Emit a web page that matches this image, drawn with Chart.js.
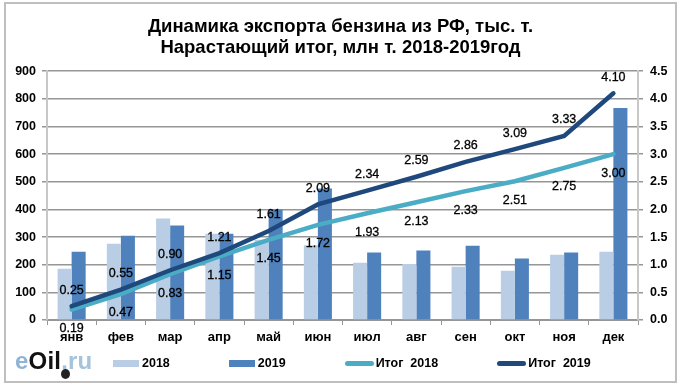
<!DOCTYPE html>
<html lang="ru">
<head>
<meta charset="utf-8">
<title>Динамика экспорта бензина</title>
<script src="https://cdn.jsdelivr.net/npm/chart.js@4"></script>
<style>
    html, body { margin: 0; padding: 0; background: #fff; }
    #wrap { position: relative; width: 682px; height: 389px; overflow: hidden; }
    #frame { position: absolute; left: 4px; top: 2px; width: 669px; height: 377px; border: 2px solid #bfbfbf; }
    #logo { position: absolute; left: 15px; top: 347px; font: bold 24px "Liberation Sans", sans-serif; letter-spacing: 0.2px; color: #a5c4dc; }
    #logo b { color: #111; }
    #logo i { font-style: normal; color: #8fb4d6; }
    #drop { position: absolute; left: 61px; top: 369px; width: 9px; height: 10px; background: #222; border-radius: 50%; }
    #legend { position: absolute; left: 113px; top: 355px; display: flex; gap: 59px; font: bold 12.5px "Liberation Sans", sans-serif; color: #000; line-height: 16px; }
    .item { display: flex; align-items: center; white-space: pre; }
    .swatch { display: block; width: 26px; height: 7px; margin-right: 3px; }
    .swatch.line { width: 29px; height: 5px; border-radius: 3px; margin-right: 2px; }
</style>
</head>
<body>
<div id="wrap">
    <div id="frame"></div>
    <canvas id="exportChart" width="682" height="389"></canvas>
    <div id="legend"></div>
    <div id="logo"><i>e</i><b>Oil</b>.ru</div>
    <div id="drop"></div>
</div>
<script>
// Данные с графика
const months = ['янв', 'фев', 'мар', 'апр', 'май', 'июн', 'июл', 'авг', 'сен', 'окт', 'ноя', 'дек'];
const export2018 = [185, 276, 367, 312, 290, 270, 207, 203, 193, 178, 236, 247];
const export2019 = [247, 305, 342, 312, 400, 476, 244, 251, 269, 222, 244, 767];
const total2018 = [0.19, 0.47, 0.83, 1.15, 1.45, 1.72, 1.93, 2.13, 2.33, 2.51, 2.75, 3.00];
const total2019 = [0.25, 0.55, 0.90, 1.21, 1.61, 2.09, 2.34, 2.59, 2.86, 3.09, 3.33, 4.10];

const font = 'Liberation Sans';

// Подписи значений над и под линиями
const lineLabels = {
    id: 'lineLabels',
    afterDatasetsDraw(chart) {
        const ctx = chart.ctx;
        ctx.save();
        ctx.font = '12.5px "' + font + '"';
        ctx.fillStyle = '#000';
        ctx.strokeStyle = '#000';
        ctx.lineWidth = 0.3;
        ctx.textAlign = 'center';
        ctx.textBaseline = 'middle';
        const put = (text, x, y) => {
            ctx.fillText(text, x, y);
            ctx.strokeText(text, x, y);
        };
        chart.getDatasetMeta(2).data.forEach((p, i) => put(total2018[i].toFixed(2), p.x, p.y + 19));
        chart.getDatasetMeta(3).data.forEach((p, i) => put(total2019[i].toFixed(2), p.x, p.y - 16));
        ctx.restore();
    }
};

const chart = new Chart(document.getElementById('exportChart').getContext('2d'), {
    type: 'bar',
    data: {
        labels: months,
        datasets: [
            { label: '2018', data: export2018, backgroundColor: '#b9cde5', yAxisID: 'y', order: 2,
              categoryPercentage: 0.57, barPercentage: 1 },
            { label: '2019', data: export2019, backgroundColor: '#4f81bd', yAxisID: 'y', order: 2,
              categoryPercentage: 0.57, barPercentage: 1 },
            { type: 'line', label: 'Итог  2018', data: total2018, borderColor: '#4bacc6', backgroundColor: '#4bacc6',
              borderWidth: 4.5, pointRadius: 0, borderCapStyle: 'round', yAxisID: 'y1', order: 1 },
            { type: 'line', label: 'Итог  2019', data: total2019, borderColor: '#1f497d', backgroundColor: '#1f497d',
              borderWidth: 4.5, pointRadius: 0, borderCapStyle: 'round', yAxisID: 'y1', order: 0 }
        ]
    },
    options: {
        responsive: false,
        animation: false,
        layout: { padding: { left: 5, right: 6, top: 16, bottom: 39 } },
        plugins: {
            title: {
                display: true,
                text: ['Динамика экспорта бензина из РФ, тыс. т.', 'Нарастающий итог, млн т. 2018-2019год'],
                color: '#000',
                font: { family: font, size: 18.5, weight: 'bold', lineHeight: 1.14 },
                padding: { top: 0, bottom: 13 }
            },
            legend: { display: false },
            tooltip: { enabled: false }
        },
        scales: {
            x: {
                grid: { drawOnChartArea: false, color: '#969696', lineWidth: 1, tickLength: 5 },
                border: { color: '#969696', width: 2 },
                ticks: { color: '#000', font: { family: font, size: 13, weight: 'bold' }, padding: 5, maxRotation: 0 },
                afterFit(scale) { scale.height = 30; }
            },
            y: {
                position: 'left',
                min: 0,
                max: 900,
                grid: { color: '#969696', lineWidth: 1.5, tickLength: 5 },
                border: { color: '#c8c8c8', width: 2 },
                ticks: { stepSize: 100, color: '#000', font: { family: font, size: 12.5, weight: 'bold' }, padding: 6 },
                afterFit(scale) { scale.width = 42; }
            },
            y1: {
                position: 'right',
                min: 0,
                max: 4.5,
                grid: { drawOnChartArea: false, color: '#969696', lineWidth: 1.5, tickLength: 5 },
                border: { color: '#c8c8c8', width: 2 },
                ticks: { stepSize: 0.5, color: '#000', font: { family: font, size: 12.5, weight: 'bold' }, padding: 7,
                    callback: v => v.toFixed(1) },
                afterFit(scale) { scale.width = 38; }
            }
        }
    },
    plugins: [lineLabels]
});

// Легенда строится из наборов данных
const legendBox = document.getElementById('legend');
chart.data.datasets.forEach(ds => {
    const item = document.createElement('div');
    item.className = 'item';
    const swatch = document.createElement('span');
    swatch.className = ds.type === 'line' ? 'swatch line' : 'swatch';
    swatch.style.background = ds.backgroundColor;
    item.appendChild(swatch);
    item.appendChild(document.createTextNode(ds.label));
    legendBox.appendChild(item);
});
</script>
</body>
</html>
